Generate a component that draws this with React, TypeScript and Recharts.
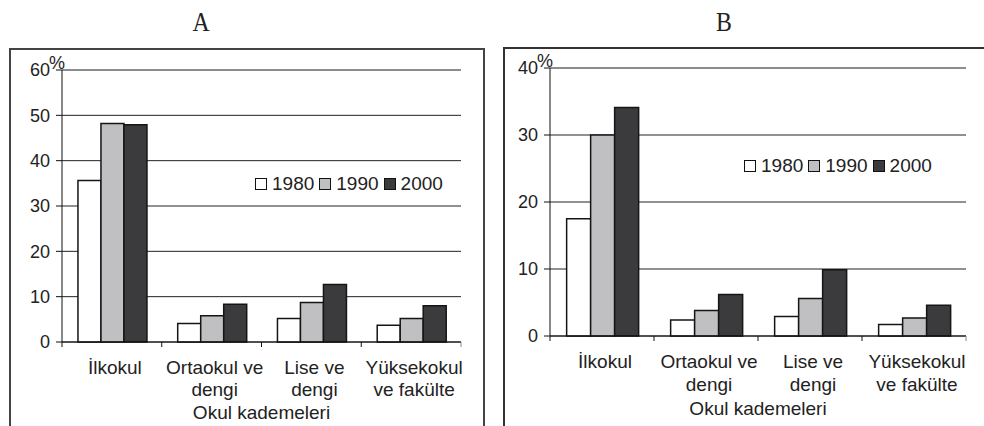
import { Bar, BarChart, CartesianGrid, Legend, ReferenceLine, XAxis, YAxis } from 'recharts'

const CATEGORIES = ['İlkokul', 'Ortaokul ve\ndengi', 'Lise ve\ndengi', 'Yüksekokul\nve fakülte']
const YEARS = ['1980', '1990', '2000']
const FILLS = ['#ffffff', '#c0c0c3', '#3b3b3d']
const AXIS_TITLE = 'Okul kademeleri'

// chart A
const A_1980 = [35.6, 4.1, 5.2, 3.7]
const A_1990 = [48.2, 5.8, 8.7, 5.2]
const A_2000 = [47.9, 8.3, 12.7, 8.0]
const A_TICKS = [0, 10, 20, 30, 40, 50, 60]

// chart B
const B_1980 = [17.5, 2.4, 2.9, 1.7]
const B_1990 = [30.0, 3.8, 5.6, 2.7]
const B_2000 = [34.1, 6.2, 9.9, 4.6]
const B_TICKS = [0, 10, 20, 30, 40]

const FONT = '"Liberation Sans", Arial, sans-serif'
const TEXT = '#222'

const buildRows = (s1: number[], s2: number[], s3: number[]) =>
  CATEGORIES.map((name, i) => ({ name, [YEARS[0]]: s1[i], [YEARS[1]]: s2[i], [YEARS[2]]: s3[i] }))

function XTick(props: any) {
  const { x, y, payload, index, band, count, first, step } = props
  const lines = String(payload.value).split('\n')
  const cx = x + 3
  return (
    <g>
      <line x1={x - band / 2} x2={x - band / 2} y1={y} y2={y + 5} stroke="#111" />
      {index === count - 1 && (
        <line x1={x + band / 2} x2={x + band / 2} y1={y} y2={y + 5} stroke="#888" />
      )}
      <text x={cx} y={y} textAnchor="middle" fontSize={19} fontFamily={FONT} fill={TEXT}>
        {lines.map((l, i) => (
          <tspan key={i} x={cx} dy={i === 0 ? first : step}>
            {l}
          </tspan>
        ))}
      </text>
    </g>
  )
}

function YTick(props: any) {
  const { x, y, payload, top } = props
  return (
    <g>
      <text x={x} y={y} dy="0.355em" textAnchor="end" fontSize={18} fontFamily={FONT} fill={TEXT}>
        {payload.value}
      </text>
      {payload.value === top && (
        <text x={x - 1} y={y - 7} dy="0.355em" textAnchor="start" fontSize={18} fontFamily={FONT} fill={TEXT}>
          %
        </text>
      )}
    </g>
  )
}

function LegendBox(props: any) {
  const { payload } = props
  return (
    <div style={{ display: 'flex', alignItems: 'center', fontFamily: FONT, fontSize: 19, lineHeight: '20px', color: TEXT }}>
      {payload.map((p: any) => (
        <span key={p.value} style={{ display: 'flex', alignItems: 'center', marginRight: 5 }}>
          <span
            style={{
              display: 'inline-block',
              width: 10,
              height: 10,
              border: '1px solid #111',
              background: p.color,
              marginRight: 5,
            }}
          />
          {p.value}
        </span>
      ))}
    </div>
  )
}

interface PanelProps {
  rows: any[]
  ticks: number[]
  width: number
  height: number
  top: number
  right: number
  yWidth: number
  xHeight: number
  firstLine: number
  lineStep: number
  titleOffset: number
  legendLeft: number
  legendTop: number
}

function Panel(p: PanelProps) {
  const max = p.ticks[p.ticks.length - 1]
  const band = (p.width - p.yWidth - p.right) / CATEGORIES.length
  return (
    <BarChart
      width={p.width}
      height={p.height}
      data={p.rows}
      margin={{ top: p.top, right: p.right, bottom: 0, left: 0 }}
      barCategoryGap="16%"
      barGap={0}
    >
      <CartesianGrid vertical={false} stroke="#222" />
      <XAxis
        dataKey="name"
        height={p.xHeight}
        interval={0}
        tickSize={0}
        tickMargin={0}
        tickLine={false}
        axisLine={{ stroke: '#111' }}
        tick={(t: any) => (
          <XTick {...t} band={band} count={CATEGORIES.length} first={p.firstLine} step={p.lineStep} />
        )}
        label={{
          value: AXIS_TITLE,
          position: 'insideBottom',
          offset: p.titleOffset,
          fontSize: 19,
          fontFamily: FONT,
          fill: TEXT,
        }}
      />
      <YAxis
        width={p.yWidth}
        domain={[0, max]}
        ticks={p.ticks}
        interval={0}
        tickSize={6}
        tickMargin={6}
        axisLine={{ stroke: '#111' }}
        tickLine={{ stroke: '#111' }}
        tick={(t: any) => <YTick {...t} top={max} />}
      />
      <YAxis
        yAxisId="frame"
        orientation="right"
        width={0}
        domain={[0, max]}
        tick={false}
        tickLine={false}
        axisLine={{ stroke: '#888' }}
      />
      <ReferenceLine y={max} stroke="#888" />
      <Legend
        content={<LegendBox />}
        layout="horizontal"
        align="center"
        verticalAlign="middle"
        wrapperStyle={{ left: p.legendLeft, top: p.legendTop, width: 'auto' }}
      />
      {YEARS.map((yr, i) => (
        <Bar key={yr} dataKey={yr} name={yr} fill={FILLS[i]} stroke="#151515" strokeWidth={1.5} isAnimationActive={false} />
      ))}
    </BarChart>
  )
}

const headingStyle: React.CSSProperties = {
  position: 'absolute',
  top: 8,
  fontFamily: '"Liberation Serif", "Times New Roman", serif',
  fontSize: 28,
  lineHeight: '28px',
  color: '#222',
  transform: 'translateX(-50%) scaleX(0.85)',
}

export default function App() {
  const rowsA = buildRows(A_1980, A_1990, A_2000)
  const rowsB = buildRows(B_1980, B_1990, B_2000)
  return (
    <div style={{ position: 'absolute', left: 0, top: 0, width: 984, height: 426, overflow: 'hidden', background: '#fff' }}>
      <div style={{ ...headingStyle, left: 201 }}>A</div>
      <div style={{ ...headingStyle, left: 724 }}>B</div>

      <div style={{ position: 'absolute', left: 9, top: 48, width: 476, height: 400, border: '2px solid #444', boxSizing: 'border-box' }} />
      <div style={{ position: 'absolute', left: 503, top: 47, width: 500, height: 400, border: '2px solid #333', boxSizing: 'border-box' }} />

      <div style={{ position: 'absolute', left: 9, top: 48 }}>
        <Panel
          rows={rowsA}
          ticks={A_TICKS}
          width={476}
          height={378}
          top={22}
          right={24}
          yWidth={53}
          xHeight={84}
          firstLine={32}
          lineStep={22}
          titleOffset={7}
          legendLeft={246}
          legendTop={126}
        />
      </div>
      <div style={{ position: 'absolute', left: 503, top: 47 }}>
        <Panel
          rows={rowsB}
          ticks={B_TICKS}
          width={481}
          height={379}
          top={21}
          right={18}
          yWidth={47}
          xHeight={90}
          firstLine={32}
          lineStep={23}
          titleOffset={11}
          legendLeft={241}
          legendTop={109}
        />
      </div>
    </div>
  )
}
